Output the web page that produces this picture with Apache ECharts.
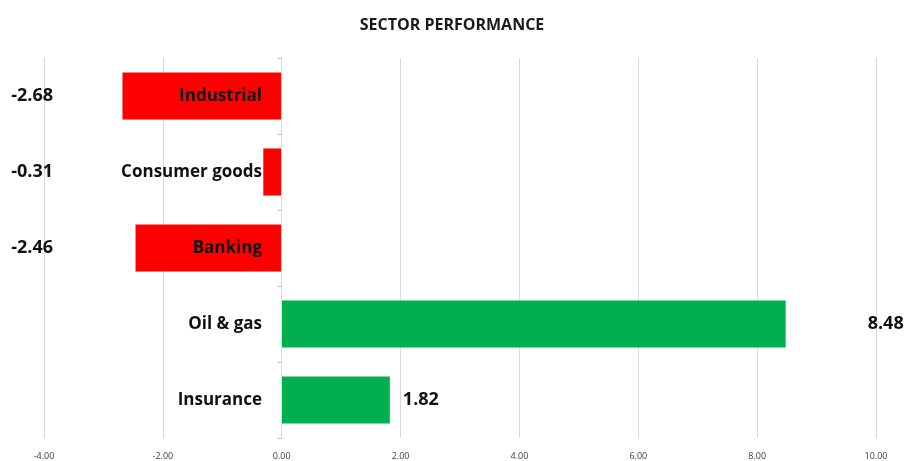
<!DOCTYPE html>
<html>
<head>
<meta charset="utf-8">
<script src="https://cdn.jsdelivr.net/npm/echarts@6/dist/echarts.min.js"></script>
<style>
	html, body { margin: 0; padding: 0; background: #fff; }
	#chart { width: 904px; height: 461px; }
</style>
</head>
<body>
<div id="chart"></div>
<script type="text/javascript">
	// sector data, top to bottom
	var sectors = ['Industrial', 'Consumer goods', 'Banking', 'Oil & gas', 'Insurance'];
	var changes = [-2.68, -0.31, -2.46, 8.48, 1.82];
	var xTicks = [-4, -2, 0, 2, 4, 6, 8, 10];

	var font = '"Open Sans", "Liberation Sans", sans-serif';
	// gap between a positive bar and its value label
	var labelGap = { 'Oil & gas': 82, 'Insurance': 13 };

	var barData = changes.map(function (v, i) {
		return {
			value: v,
			itemStyle: { color: v < 0 ? '#ff0000' : '#00b050' },
			label: {
				show: v > 0,
				position: 'right',
				distance: labelGap[sectors[i]] || 10
			}
		};
	});

	var chart = echarts.init(document.getElementById('chart'));
	var option = {
		animation: false,
		backgroundColor: '#fff',
		title: {
			text: 'SECTOR PERFORMANCE',
			left: 'center',
			top: 12,
			textStyle: { fontFamily: font, fontSize: 16, fontWeight: 'bold', color: '#1a1a1a' }
		},
		grid: { left: 44, right: 28, top: 58, bottom: 23, containLabel: false, outerBoundsMode: 'none' },
		xAxis: {
			type: 'value',
			min: xTicks[0],
			max: xTicks[xTicks.length - 1],
			interval: 2,
			axisLine: { show: false },
			axisTick: { show: false },
			splitLine: { lineStyle: { color: '#d9d9d9', width: 1 } },
			axisLabel: {
				margin: 14,
				fontFamily: font,
				fontSize: 9,
				color: '#404040',
				formatter: function (v) { return v.toFixed(2); }
			}
		},
		yAxis: [
			{
				type: 'category',
				data: sectors,
				inverse: true,
				z: 10,
				axisLine: { onZero: true, lineStyle: { color: '#d9d9d9' } },
				axisTick: { show: true, length: 4, lineStyle: { color: '#bfbfbf' } },
				axisLabel: {
					margin: -218,
					padding: [4, 0, 0, 0],
					fontFamily: font,
					fontSize: 17,
					fontWeight: 'bold',
					color: '#111'
				}
			},
			{
				type: 'category',
				data: sectors,
				inverse: true,
				position: 'left',
				offset: -9,
				axisLine: { show: false, onZero: false },
				axisTick: { show: false },
				axisLabel: {
					margin: 0,
					padding: [4, 0, 0, 0],
					fontFamily: font,
					fontSize: 18,
					fontWeight: 'bold',
					color: '#111',
					formatter: function (name) {
						var v = changes[sectors.indexOf(name)];
						return v < 0 ? v.toFixed(2) : '';
					}
				}
			}
		],
		series: [
			{
				name: 'Sector performance',
				type: 'bar',
				yAxisIndex: 0,
				barCategoryGap: '38%',
				data: barData,
				label: {
					fontFamily: font,
					fontSize: 18,
					fontWeight: 'bold',
					color: '#111',
					padding: [4, 0, 0, 0],
					formatter: function (p) { return p.value.toFixed(2); }
				}
			}
		]
	};
	chart.setOption(option);
	window.onresize = function () {
		chart.resize();
	};
</script>
</body>
</html>
